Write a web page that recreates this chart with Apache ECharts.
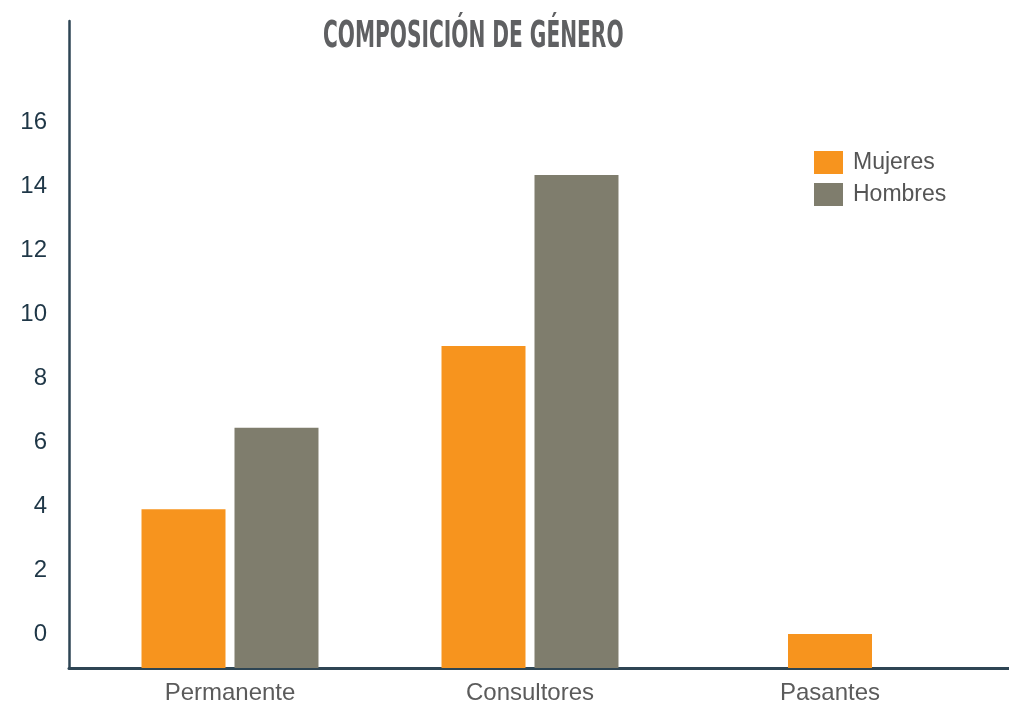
<!DOCTYPE html>
<html>
<head>
<meta charset="utf-8">
<title>Composición de género</title>
<script src="https://cdn.jsdelivr.net/npm/echarts@6/dist/echarts.min.js"></script>
<style>
  html, body { margin: 0; padding: 0; background: #fff; }
  #chart { width: 1009px; height: 709px; }
</style>
</head>
<body>
<div id="chart"></div>
<script>
// datos
var categorias = ["Permanente", "Consultores", "Pasantes"];
var mujeres = [3.9, 9.0, 0];
var hombres = [6.45, 14.35, null];
var yTicks = [0, 2, 4, 6, 8, 10, 12, 14, 16];

var yMin = -1.0625;
var yMax = 19.16;

// Pasantes solo tiene una barra: va en su propio eje para quedar centrada
var mujeresPar = mujeres.map(function (v, i) { return hombres[i] == null ? null : v; });
var mujeresSolo = mujeres.map(function (v, i) { return hombres[i] == null ? v : null; });

var chart = echarts.init(document.getElementById("chart"));

var axisColor = "#2e4554";
var textFont = "'Liberation Sans', Arial, sans-serif";

chart.setOption({
  backgroundColor: "#fff",
  // titulo estrecho y alto (estilo Bebas), comprimido en horizontal
  graphic: [
    {
      type: "text",
      x: 323,
      y: 18,
      scaleX: 0.59,
      style: {
        text: "COMPOSICIÓN DE GÉNERO",
        font: "bold 38px 'DejaVu Sans Condensed', sans-serif",
        fill: "#5f6062",
        textAlign: "left",
        textVerticalAlign: "top"
      }
    }
  ],
  legend: {
    data: ["Mujeres", "Hombres"],
    orient: "vertical",
    left: 814,
    top: 151,
    padding: 0,
    itemWidth: 29,
    itemHeight: 23,
    itemGap: 9,
    icon: "rect",
    textStyle: {
      fontFamily: textFont,
      fontSize: 23,
      color: "#555",
      padding: [0, 0, 0, 5]
    }
  },
  grid: [
    // ejes exteriores (lineas y etiquetas del eje y)
    { left: 69, right: 0, top: 21, bottom: 41 },
    // area de las barras
    { left: 80, right: 29, top: 21, bottom: 41 }
  ],
  xAxis: [
    {
      gridIndex: 0,
      type: "value",
      min: 0,
      max: 1,
      axisLine: { show: true, onZero: false, lineStyle: { color: axisColor, width: 3 } },
      axisTick: { show: false },
      axisLabel: { show: false },
      splitLine: { show: false }
    },
    {
      gridIndex: 1,
      type: "category",
      data: categorias,
      axisLine: { show: false },
      axisTick: { show: false },
      axisLabel: { margin: 13, fontFamily: textFont, fontSize: 24, color: "#5b5b5b" }
    },
    {
      gridIndex: 1,
      type: "category",
      data: categorias,
      show: false
    }
  ],
  yAxis: [
    {
      gridIndex: 0,
      type: "value",
      min: yMin,
      max: yMax,
      splitNumber: 10,
      axisLine: { show: true, onZero: false, lineStyle: { color: axisColor, width: 2.5 } },
      axisTick: { show: false },
      splitLine: { show: false },
      axisLabel: {
        margin: 22,
        fontFamily: textFont,
        fontSize: 24,
        color: "#1f3747",
        formatter: function (v) {
          return yTicks.indexOf(v) >= 0 ? String(v) : "";
        }
      }
    },
    {
      gridIndex: 1,
      type: "value",
      min: yMin,
      max: yMax,
      startValue: yMin,
      show: false,
      splitLine: { show: false }
    }
  ],
  series: [
    {
      name: "Mujeres",
      type: "bar",
      xAxisIndex: 1,
      yAxisIndex: 1,
      data: mujeresPar,
      barWidth: 84,
      barGap: "10.7%",
      itemStyle: { color: "#f7941e" }
    },
    {
      name: "Hombres",
      type: "bar",
      xAxisIndex: 1,
      yAxisIndex: 1,
      data: hombres,
      barWidth: 84,
      barGap: "10.7%",
      itemStyle: { color: "#7f7d6d" }
    },
    {
      name: "Mujeres",
      type: "bar",
      xAxisIndex: 2,
      yAxisIndex: 1,
      data: mujeresSolo,
      barWidth: 84,
      itemStyle: { color: "#f7941e" }
    }
  ]
});
</script>
</body>
</html>
